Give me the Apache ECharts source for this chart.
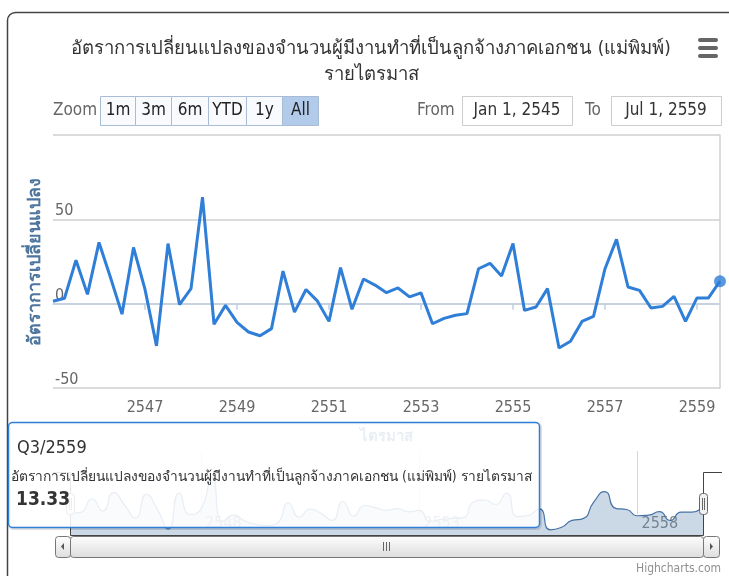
<!DOCTYPE html>
<html>
<head>
<meta charset="utf-8">
<script src="https://cdn.jsdelivr.net/npm/echarts@6/dist/echarts.min.js"></script>
<style>
    html, body { margin: 0; padding: 0; background: #fff; }
    #main { width: 729px; height: 576px; }
</style>
</head>
<body>
<div id="main"></div>
<script>
//ข้อมูลรายไตรมาส เริ่ม Q1/2545 ถึง Q3/2559
var startYear = 2545;
var changeValues = [
    1.4, 3.2, 25.8, 5.5, 36.3, 15.5, -6.2, 33.3, 8.5, -25.0,
    35.6, -0.5, 8.9, 63.2, -12.2, -1.0, -11.1, -16.8, -19.0, -14.8,
    19.3, -5.0, 8.4, 1.5, -10.5, 21.4, -3.3, 14.6, 11.0, 6.5,
    9.3, 4.0, 6.4, -11.9, -8.7, -6.9, -5.9, 20.7, 23.9, 16.4,
    35.6, -4.0, -2.0, 8.9, -26.3, -22.3, -10.5, -7.5, 20.7, 38.1,
    9.9, 7.9, -2.6, -1.6, 4.3, -10.5, 3.4, 3.4, 13.33
];
var mainTickYears = [2547, 2549, 2551, 2553, 2555, 2557, 2559];
var navTickYears = [2548, 2553, 2558];
var rangeButtons = ['1m', '3m', '6m', 'YTD', '1y', 'All'];
var seriesName = 'อัตราการเปลี่ยนแปลงของจำนวนผู้มีงานทำที่เป็นลูกจ้างภาคเอกชน (แม่พิมพ์) รายไตรมาส';

var fontName = "'Liberation Sans Narrow', 'DejaVu Sans Condensed', 'Noto Sans', sans-serif";

function quarterLabel(i) {
    return 'Q' + (i % 4 + 1) + '/' + (startYear + Math.floor(i / 4));
}

function plainNumber(v) {
    return String(v);
}

function drawChangeChart() {
    var dom = document.getElementById("main");
    var myChart = echarts.init(dom);
    var option = null;

    var points = [];
    for (var i = 0; i < changeValues.length; i++) {
        points.push([startYear + i / 4, changeValues[i]]);
    }
    var last = points[points.length - 1];
    var xMax = startYear + (changeValues.length - 1) / 4;

    //ปุ่ม zoom
    var btnX = [100, 135, 171, 208, 246, 282, 318];
    var buttons = [];
    for (var b = 0; b < rangeButtons.length; b++) {
        var selected = rangeButtons[b] == 'All';
        buttons.push({
            type: 'rect',
            shape: { x: btnX[b] + 0.5, y: 96.5, width: btnX[b + 1] - btnX[b], height: 29 },
            style: { fill: selected ? '#b3cbeb' : '#f8fafd', stroke: '#a9bcd6', lineWidth: 1 }
        });
        buttons.push({
            type: 'text',
            x: (btnX[b] + btnX[b + 1]) / 2 + 0.5, y: 111,
            style: { text: rangeButtons[b], fill: '#222', font: '17px ' + fontName, align: 'center', verticalAlign: 'middle' }
        });
    }

    option = {
        animation: false,
        backgroundColor: '#fff',
        title: {
            text: 'อัตราการเปลี่ยนแปลงของจำนวนผู้มีงานทำที่เป็นลูกจ้างภาคเอกชน (แม่พิมพ์)\nรายไตรมาส',
            left: 366,
            top: 31,
            textAlign: 'center',
            textStyle: { fontFamily: fontName, fontSize: 18.5, fontWeight: 'normal', color: '#333', lineHeight: 26 }
        },
        grid: [
            { left: 53, top: 135, width: 667, height: 253 },
            { left: 70, top: 472, width: 633, height: 63 }
        ],
        xAxis: [{
            type: 'value',
            gridIndex: 0,
            min: startYear,
            max: xMax,
            name: 'ไตรมาส',
            nameLocation: 'middle',
            nameGap: 42,
            nameTextStyle: { fontFamily: fontName, fontSize: 15, fontWeight: 'bold', color: '#4d759e' },
            axisLine: { show: true, lineStyle: { color: '#c0d0e0', width: 1.5 } },
            axisTick: { show: true, customValues: mainTickYears, length: 6, lineStyle: { color: '#c0d0e0', width: 1.5 } },
            axisLabel: { customValues: mainTickYears, formatter: plainNumber, color: '#666', fontSize: 16, fontFamily: fontName, margin: 12 },
            splitLine: { show: false }
        }, {
            type: 'value',
            gridIndex: 1,
            min: startYear,
            max: xMax,
            axisLine: { show: false },
            axisTick: { show: true, inside: true, length: 63, customValues: navTickYears, lineStyle: { color: '#d6d6d6', width: 1 } },
            axisLabel: { inside: true, customValues: navTickYears, formatter: plainNumber, color: '#888', fontSize: 16, fontFamily: fontName, align: 'left', verticalAlign: 'bottom', margin: 3, padding: [0, 0, 0, 4] },
            splitLine: { show: false }
        }],
        yAxis: [{
            type: 'value',
            gridIndex: 0,
            min: -50,
            max: 100,
            interval: 50,
            name: 'อัตราการเปลี่ยนแปลง',
            nameLocation: 'middle',
            nameRotate: 90,
            nameGap: 3,
            nameTextStyle: { fontFamily: fontName, fontSize: 18, fontWeight: 'bold', color: '#4d759e' },
            axisLine: { show: false },
            axisTick: { show: false },
            axisLabel: { inside: true, showMaxLabel: false, color: '#666', fontSize: 16, fontFamily: fontName, verticalAlign: 'bottom', margin: 2 },
            splitLine: { show: true, lineStyle: { color: '#cfcfcf', width: 1.5 } }
        }, {
            type: 'value',
            gridIndex: 0,
            position: 'right',
            min: -50,
            max: 100,
            interval: 50,
            axisLine: { show: true, lineStyle: { color: '#d0d0d0', width: 1.5 } },
            axisTick: { show: false },
            axisLabel: { show: false },
            splitLine: { show: false }
        }, {
            type: 'value',
            gridIndex: 1,
            min: -35,
            max: 71,
            show: false
        }],
        series: [{
            name: seriesName,
            type: 'line',
            xAxisIndex: 0,
            yAxisIndex: 0,
            data: points,
            showSymbol: false,
            lineStyle: { color: '#2f7ed8', width: 3 },
            z: 3
        }, {
            type: 'scatter',
            xAxisIndex: 0,
            yAxisIndex: 0,
            data: [last],
            symbolSize: 12,
            itemStyle: { color: '#2f7ed8' },
            z: 4
        }, {
            type: 'line',
            xAxisIndex: 1,
            yAxisIndex: 2,
            data: points,
            smooth: 0.6,
            showSymbol: false,
            lineStyle: { color: '#4572a7', width: 1.2 },
            areaStyle: { color: 'rgba(69,114,167,0.4)', origin: 'start' }
        }],
        graphic: [
            //กรอบ
            {
                type: 'rect',
                shape: { x: 7.5, y: 12.5, width: 800, height: 700, r: 8 },
                style: { fill: 'none', stroke: '#444', lineWidth: 1.5 },
                z: 1
            },
            //เมนู
            { type: 'rect', shape: { x: 698, y: 38, width: 20, height: 4, r: 2 }, style: { fill: '#666' } },
            { type: 'rect', shape: { x: 698, y: 46, width: 20, height: 4, r: 2 }, style: { fill: '#666' } },
            { type: 'rect', shape: { x: 698, y: 54, width: 20, height: 4, r: 2 }, style: { fill: '#666' } },
            //range selector
            { type: 'text', x: 53, y: 111, style: { text: 'Zoom', fill: '#666', font: '17px ' + fontName, verticalAlign: 'middle' } },
            { type: 'group', children: buttons },
            { type: 'text', x: 417, y: 111, style: { text: 'From', fill: '#666', font: '17px ' + fontName, verticalAlign: 'middle' } },
            { type: 'rect', shape: { x: 462.5, y: 96.5, width: 110, height: 29 }, style: { fill: '#fff', stroke: '#ccc', lineWidth: 1 } },
            { type: 'text', x: 517, y: 111, style: { text: 'Jan 1, 2545', fill: '#333', font: '17px ' + fontName, align: 'center', verticalAlign: 'middle' } },
            { type: 'text', x: 585, y: 111, style: { text: 'To', fill: '#666', font: '17px ' + fontName, verticalAlign: 'middle' } },
            { type: 'rect', shape: { x: 611.5, y: 96.5, width: 110, height: 29 }, style: { fill: '#fff', stroke: '#ccc', lineWidth: 1 } },
            { type: 'text', x: 666, y: 111, style: { text: 'Jul 1, 2559', fill: '#333', font: '17px ' + fontName, align: 'center', verticalAlign: 'middle' } },
            //navigator outline + handles
            {
                type: 'polyline',
                shape: { points: [[53, 472.5], [70.5, 472.5], [70.5, 535.5], [703.5, 535.5], [703.5, 472.5], [722, 472.5]] },
                style: { stroke: '#444', lineWidth: 1, fill: 'none' },
                z: 20
            },
            { type: 'rect', shape: { x: 66.5, y: 493.5, width: 8, height: 21, r: 3 }, style: { fill: '#f2f2f2', stroke: '#666', lineWidth: 1 }, z: 21 },
            { type: 'line', shape: { x1: 69.5, y1: 498, x2: 69.5, y2: 510 }, style: { stroke: '#666', lineWidth: 1 }, z: 22 },
            { type: 'line', shape: { x1: 71.5, y1: 498, x2: 71.5, y2: 510 }, style: { stroke: '#666', lineWidth: 1 }, z: 22 },
            { type: 'rect', shape: { x: 699.5, y: 493.5, width: 8, height: 21, r: 3 }, style: { fill: '#f2f2f2', stroke: '#666', lineWidth: 1 }, z: 21 },
            { type: 'line', shape: { x1: 702.5, y1: 498, x2: 702.5, y2: 510 }, style: { stroke: '#666', lineWidth: 1 }, z: 22 },
            { type: 'line', shape: { x1: 704.5, y1: 498, x2: 704.5, y2: 510 }, style: { stroke: '#666', lineWidth: 1 }, z: 22 },
            //scrollbar
            {
                type: 'rect',
                shape: { x: 55.5, y: 536.5, width: 15, height: 21, r: 3 },
                style: { fill: new echarts.graphic.LinearGradient(0, 0, 0, 1, [{ offset: 0, color: '#fff' }, { offset: 1, color: '#ddd' }]), stroke: '#777', lineWidth: 1 }
            },
            { type: 'polygon', shape: { points: [[64, 543], [64, 550], [61, 546.5]] }, style: { fill: '#555' } },
            {
                type: 'rect',
                shape: { x: 703.5, y: 536.5, width: 16, height: 21, r: 3 },
                style: { fill: new echarts.graphic.LinearGradient(0, 0, 0, 1, [{ offset: 0, color: '#fff' }, { offset: 1, color: '#ddd' }]), stroke: '#777', lineWidth: 1 }
            },
            { type: 'polygon', shape: { points: [[710, 543], [710, 550], [713, 546.5]] }, style: { fill: '#555' } },
            {
                type: 'rect',
                shape: { x: 70.5, y: 536.5, width: 633, height: 21, r: 3 },
                style: { fill: new echarts.graphic.LinearGradient(0, 0, 0, 1, [{ offset: 0, color: '#fdfdfd' }, { offset: 1, color: '#dcdcdc' }]), stroke: '#777', lineWidth: 1 }
            },
            { type: 'line', shape: { x1: 383.5, y1: 542, x2: 383.5, y2: 551 }, style: { stroke: '#666', lineWidth: 1 } },
            { type: 'line', shape: { x1: 386.5, y1: 542, x2: 386.5, y2: 551 }, style: { stroke: '#666', lineWidth: 1 } },
            { type: 'line', shape: { x1: 389.5, y1: 542, x2: 389.5, y2: 551 }, style: { stroke: '#666', lineWidth: 1 } },
            //credits
            { type: 'text', right: 8, y: 569, style: { text: 'Highcharts.com', fill: '#909090', font: '12px ' + fontName, verticalAlign: 'middle' } },
            //tooltip
            {
                type: 'group',
                z: 100,
                children: [{
                    type: 'rect',
                    shape: { x: 9.5, y: 423.5, width: 531, height: 105, r: 4 },
                    style: { fill: 'none', stroke: 'rgba(0,0,0,0.12)', lineWidth: 3 },
                    z: 99
                }, {
                    type: 'rect',
                    shape: { x: 8.5, y: 422.5, width: 531, height: 105, r: 4 },
                    style: { fill: 'rgba(255,255,255,0.88)', stroke: '#2f7ed8', lineWidth: 1.5 },
                    z: 100
                }, {
                    type: 'text', x: 17, y: 448, z: 101,
                    style: { text: quarterLabel(changeValues.length - 1), fill: '#333', font: '18px ' + fontName, verticalAlign: 'middle' }
                }, {
                    type: 'text', x: 11, y: 477, z: 101,
                    style: { text: seriesName, fill: '#333', font: '13.8px ' + fontName, verticalAlign: 'middle' }
                }, {
                    type: 'text', x: 16, y: 500, z: 101,
                    style: { text: last[1].toFixed(2), fill: '#333', font: 'bold 19px ' + fontName, verticalAlign: 'middle' }
                }]
            }
        ]
    };
    if (option && typeof option === "object") {
        myChart.setOption(option, true);
    }
}
drawChangeChart();
</script>
</body>
</html>
